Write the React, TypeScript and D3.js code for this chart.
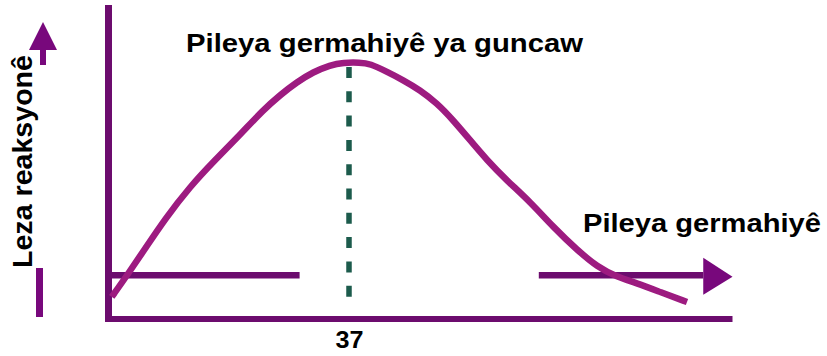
import React from "react";
import * as d3 from "d3";

// Reaction rate (% of maximum) against temperature (°C)
const temperatures = [0.5, 2.9, 5.6, 8.7, 12.5, 16.4, 20.2, 23.8, 26.4, 29.0, 31.5, 34.1, 36.1, 38.7, 40.2, 42.9, 45.3, 47.9, 50.5, 53.0, 55.6, 58.2, 61.2, 64.9, 68.4, 72.1, 75.2, 78.2, 81.3, 84.9, 89.0];
const rates = [8.6, 17.2, 27.3, 39.0, 51.5, 62.0, 71.7, 81.5, 87.3, 92.4, 96.3, 99.0, 100, 100, 99.6, 96.3, 93.2, 89.3, 84.2, 77.6, 69.8, 62.0, 54.2, 45.6, 35.9, 26.9, 20.3, 16.4, 14.0, 10.5, 6.6];

// Optimum temperature marker and its tick label
const optimumTemp = 37;
const tempTicks = [37];

// Horizontal temperature arrow drawn at a fixed rate level, in two pieces
const arrowRate = 17.1;
const arrowSegments: [number, number][] = [[0, 29.4], [66.2, 91.5]];
const arrowTip = 96;

const labels = {
  yAxis: "Leza reaksyonê",
  optimum: "Pileya germahiyê ya guncaw",
  xAxis: "Pileya germahiyê",
};

const W = 827;
const H = 356;
const FONT = "'Liberation Sans', Arial, Helvetica, sans-serif";
const FRAME = "#6c0c6e";
const HEAD = "#78087c";
const CURVE = "#9d1b80";
const DASH = "#1c5b4c";

export default function App() {
  const x = d3.scaleLinear().domain([0, 96]).range([108.5, 732.5]);
  const y = d3.scaleLinear().domain([0, 100]).range([319, 62.5]);

  const pts: [number, number][] = temperatures.map((t, i) => [t, rates[i]]);
  const line = d3
    .line<[number, number]>()
    .x((d) => x(d[0]))
    .y((d) => y(d[1]))
    .curve(d3.curveBasis);

  const ay = y(arrowRate);
  const tipX = x(arrowTip);
  const baseX = x(arrowSegments[1][1]);

  return (
    <svg
      width={W}
      height={H}
      viewBox={`0 0 ${W} ${H}`}
      style={{ position: "absolute", left: 0, top: 0, background: "#fff" }}
    >
      {/* frame axes */}
      <line x1={x(0)} x2={x(0)} y1={5} y2={322} stroke={FRAME} strokeWidth={7} />
      <line x1={105} x2={x(arrowTip)} y1={y(0)} y2={y(0)} stroke={FRAME} strokeWidth={6} />

      {/* temperature arrow */}
      {arrowSegments.map(([a, b], i) => (
        <line key={i} x1={x(a)} x2={x(b)} y1={ay} y2={ay} stroke={FRAME} strokeWidth={6.5} />
      ))}
      <path
        d={`M${baseX},${ay - 17.5}L${tipX},${ay + 1.5}L${baseX},${ay + 19.5}Z`}
        fill={HEAD}
      />

      {/* rate arrow (left side) */}
      <line x1={43} x2={43} y1={46} y2={65} stroke={HEAD} strokeWidth={6} />
      <path d="M43,22L29,50L57,50Z" fill={HEAD} />
      <line x1={39.5} x2={39.5} y1={268} y2={317} stroke={HEAD} strokeWidth={7} />

      {/* optimum marker */}
      <line
        x1={x(optimumTemp)}
        x2={x(optimumTemp)}
        y1={67}
        y2={298}
        stroke={DASH}
        strokeWidth={5.5}
        strokeDasharray="11 13.3"
      />

      {/* rate curve */}
      <path d={line(pts) || ""} fill="none" stroke={CURVE} strokeWidth={6.5} strokeLinejoin="round" />

      {/* texts */}
      <g fontFamily={FONT} fontWeight="bold" fill="#000">
        <text x={186} y={52} fontSize={26.5} textLength={397} lengthAdjust="spacingAndGlyphs">
          {labels.optimum}
        </text>
        <text x={583} y={232} fontSize={26.5} textLength={238} lengthAdjust="spacingAndGlyphs">
          {labels.xAxis}
        </text>
        {tempTicks.map((t) => (
          <text
            key={t}
            x={x(t) - 13.5}
            y={348}
            fontSize={23}
            textLength={28}
            lengthAdjust="spacingAndGlyphs"
          >
            {t}
          </text>
        ))}
        <text
          transform="translate(32,161.5) rotate(-90)"
          fontSize={28}
          textAnchor="middle"
          textLength={213}
          lengthAdjust="spacingAndGlyphs"
        >
          {labels.yAxis}
        </text>
      </g>
    </svg>
  );
}
